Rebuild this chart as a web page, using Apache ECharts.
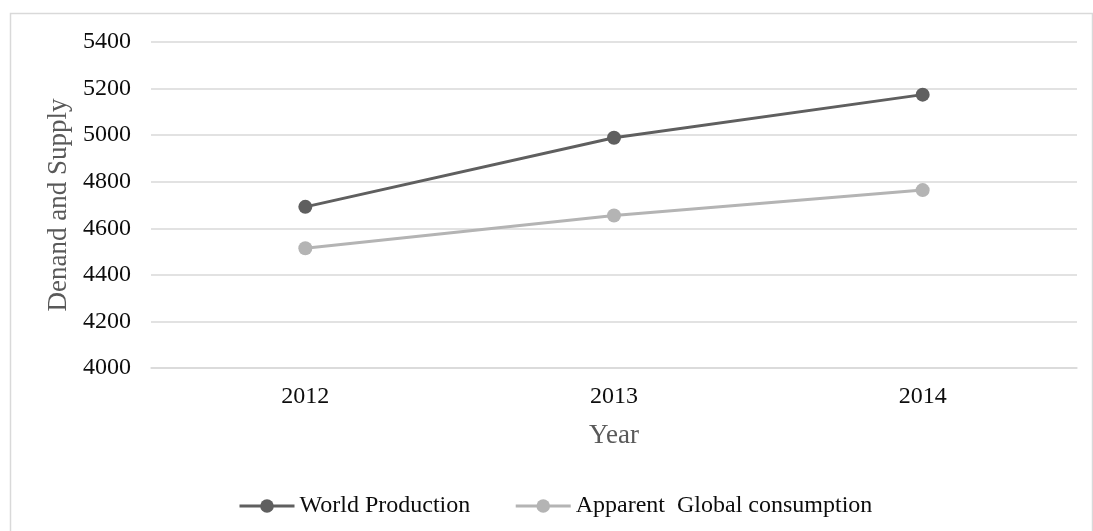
<!DOCTYPE html>
<html>
<head>
<meta charset="utf-8">
<script src="https://cdn.jsdelivr.net/npm/echarts@6/dist/echarts.min.js"></script>
<style>
  html, body { margin: 0; padding: 0; background: #ffffff; }
  #chart { width: 1093px; height: 531px; }
</style>
</head>
<body>
<div id="chart"></div>
<script>
// Demand and supply, 2012-2014
const years = ['2012', '2013', '2014'];
const worldProduction = [4692, 4989, 5174];
const apparentConsumption = [4514, 4655, 4764];
const seriesNames = ['World Production', 'Apparent  Global consumption'];
const yMin = 4000, yMax = 5400, yStep = 200;

const serif = '"Liberation Serif", "Times New Roman", serif';
const darkLine = '#5f5f5f';
const lightLine = '#b4b4b4';
const gridColor = '#d9d9d9';
const textColor = '#0d0d0d';

const chart = echarts.init(document.getElementById('chart'), null, { renderer: 'canvas' });

chart.setOption({
  animation: false,
  backgroundColor: '#ffffff',
  textStyle: { fontFamily: serif },
  graphic: [{
    type: 'rect',
    shape: { x: 10.5, y: 13.5, width: 1082, height: 600 },
    style: { fill: 'none', stroke: gridColor, lineWidth: 1.5 },
    silent: true,
    z: -1
  }],
  grid: { left: 151, right: 16, top: 42, bottom: 163, containLabel: false },
  legend: {
    left: 233,
    top: 489,
    itemWidth: 55,
    itemHeight: 17,
    itemGap: 44,
    lineStyle: { width: 3 },
    textStyle: { fontFamily: serif, fontSize: 24, color: textColor },
    data: seriesNames
  },
  xAxis: {
    type: 'category',
    data: years,
    boundaryGap: true,
    name: 'Year',
    nameLocation: 'middle',
    nameGap: 54,
    nameTextStyle: { fontFamily: serif, fontSize: 27, color: '#595959' },
    axisLine: { show: true, lineStyle: { color: gridColor, width: 1.5 } },
    axisTick: { show: false },
    axisLabel: { fontFamily: serif, fontSize: 24, color: textColor, margin: 17 }
  },
  yAxis: {
    type: 'value',
    min: yMin,
    max: yMax,
    interval: yStep,
    name: 'Denand and Supply',
    nameLocation: 'middle',
    nameGap: 73,
    nameTextStyle: { fontFamily: serif, fontSize: 27, color: '#595959' },
    axisLine: { show: false },
    axisTick: { show: false },
    axisLabel: {
      fontFamily: serif, fontSize: 24, color: textColor, margin: 20,
      formatter: function (v) { return String(v); }
    },
    splitLine: { show: true, lineStyle: { color: gridColor, width: 1.5 } }
  },
  series: [
    {
      name: seriesNames[0],
      type: 'line',
      data: worldProduction,
      symbol: 'circle',
      symbolSize: 14,
      lineStyle: { color: darkLine, width: 3 },
      itemStyle: { color: darkLine },
      z: 3
    },
    {
      name: seriesNames[1],
      type: 'line',
      data: apparentConsumption,
      symbol: 'circle',
      symbolSize: 14,
      lineStyle: { color: lightLine, width: 3 },
      itemStyle: { color: lightLine },
      z: 2
    }
  ]
});
</script>
</body>
</html>
